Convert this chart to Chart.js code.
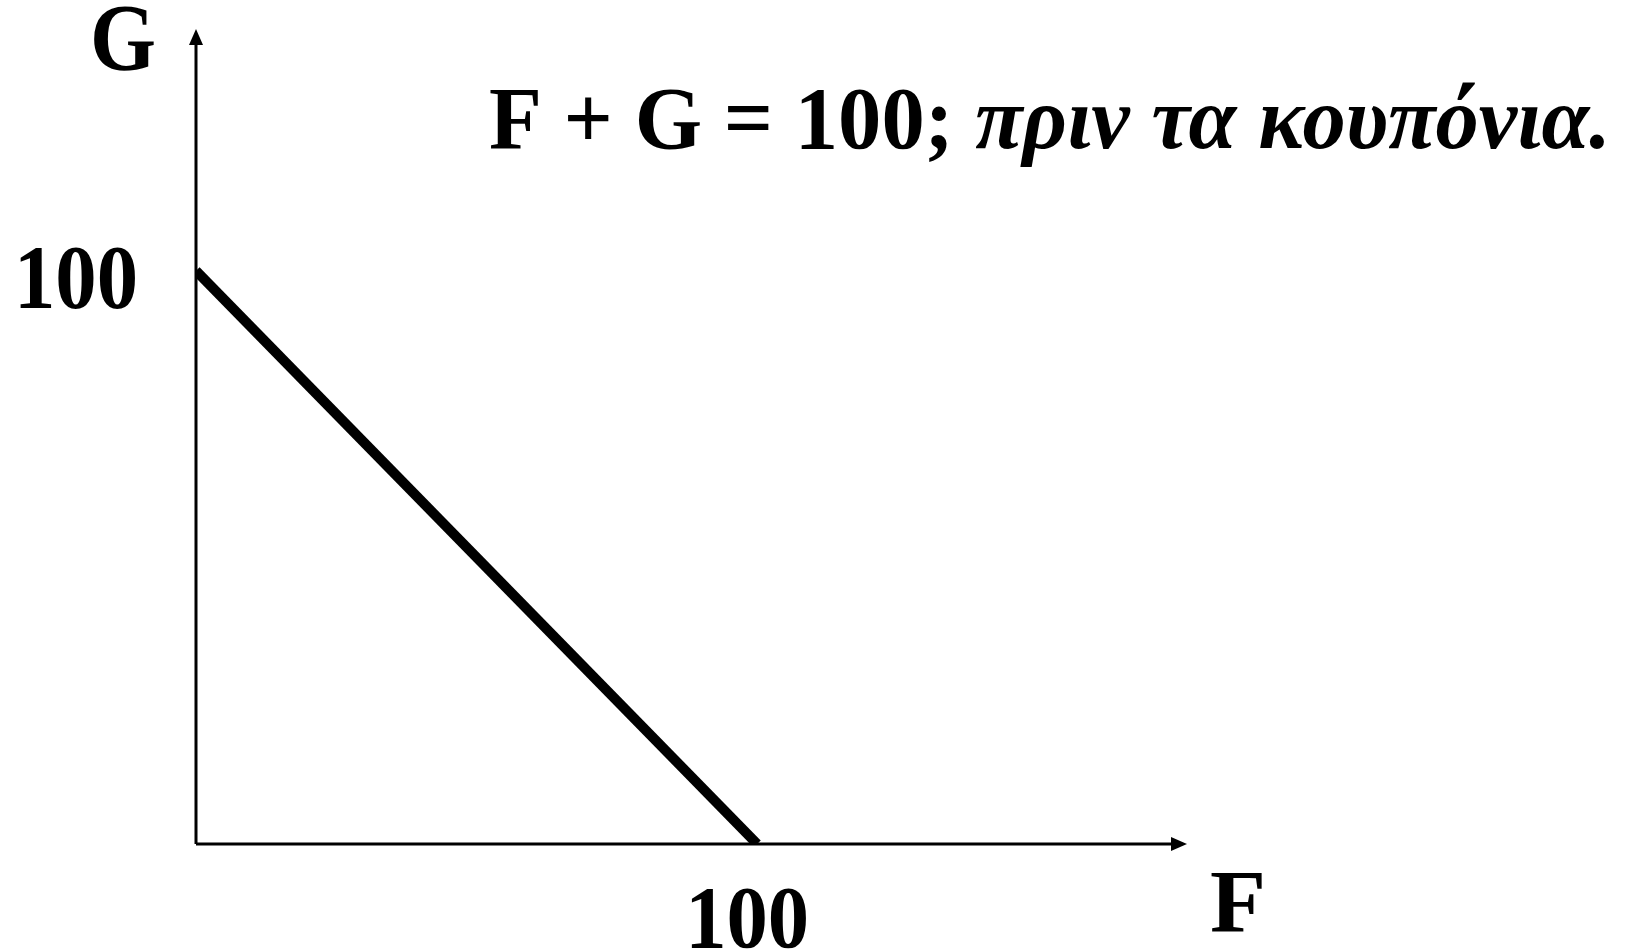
<!DOCTYPE html>
<html>
<head>
<meta charset="utf-8">
<script src="https://cdn.jsdelivr.net/npm/chart.js@4"></script>
<style>
  html, body { margin: 0; padding: 0; background: #fff; }
  #wrap { width: 1628px; height: 950px; position: relative; }
</style>
</head>
<body>
<div id="wrap"><canvas id="chart"></canvas></div>
<script>
// budget line before the coupons: F + G = 100
var fValues = [0, 100];
var gValues = [100, 0];
var xTicks = [100];
var yTicks = [100];
var xTitle = "F";
var yTitle = "G";
var titleMain = "F + G = 100; ";
var titleGreek = "πριν τα κουπόνια.";

var points = fValues.map(function (f, i) { return { x: f, y: gValues[i] } });

// draw text squeezed to a target width
function fitText(ctx, parts, x, y, width) {
    var total = 0;
    parts.forEach(function (p) { ctx.font = p.font; total += ctx.measureText(p.text).width });
    var sx = width / total;
    ctx.save();
    ctx.translate(x, y);
    ctx.scale(sx, 1);
    var cx = 0;
    parts.forEach(function (p) {
        ctx.font = p.font;
        ctx.fillText(p.text, cx, 0);
        cx += ctx.measureText(p.text).width;
    });
    ctx.restore();
}

function arrowHead(ctx, x, y, dir) {
    ctx.beginPath();
    if (dir === "up") {
        ctx.moveTo(x, y);
        ctx.lineTo(x - 7, y + 16);
        ctx.lineTo(x + 7, y + 16);
    } else {
        ctx.moveTo(x, y);
        ctx.lineTo(x - 16, y - 7);
        ctx.lineTo(x - 16, y + 7);
    }
    ctx.closePath();
    ctx.fill();
}

var axesPlugin = {
    id: "axes",
    beforeDatasetsDraw: function (chart) {
        var ctx = chart.ctx;
        var xs = chart.scales.x, ys = chart.scales.y;
        var x0 = xs.getPixelForValue(0), y0 = ys.getPixelForValue(0);
        var area = chart.chartArea;
        ctx.save();
        ctx.strokeStyle = "#000";
        ctx.fillStyle = "#000";
        ctx.lineWidth = 3;
        ctx.beginPath();
        ctx.moveTo(x0, y0);
        ctx.lineTo(x0, area.top + 10);
        ctx.moveTo(x0, y0);
        ctx.lineTo(area.right - 10, y0);
        ctx.stroke();
        arrowHead(ctx, x0, area.top, "up");
        arrowHead(ctx, area.right, y0, "right");
        ctx.restore();
    },
    afterDraw: function (chart) {
        var ctx = chart.ctx;
        var xs = chart.scales.x, ys = chart.scales.y;
        ctx.save();
        ctx.fillStyle = "#000";
        ctx.textBaseline = "alphabetic";
        var serif = "'Liberation Serif', 'Times New Roman', serif";
        var bold = "bold 88px " + serif;
        var boldItalic = "italic bold 88px " + serif;
        yTicks.forEach(function (v) {
            fitText(ctx, [{ text: String(v), font: "bold 90px " + serif }], 14, ys.getPixelForValue(v) + 37, 124);
        });
        xTicks.forEach(function (v) {
            fitText(ctx, [{ text: String(v), font: bold }], xs.getPixelForValue(v) - 72, 947, 124);
        });
        fitText(ctx, [{ text: yTitle, font: "bold 96px " + serif }], 90, 70, 66);
        fitText(ctx, [{ text: xTitle, font: bold }], 1210, 931, 56);
        fitText(ctx, [{ text: titleMain, font: bold }, { text: titleGreek, font: boldItalic }], 489, 148, 1122);
        ctx.restore();
    }
};

new Chart(document.getElementById("chart").getContext("2d"), {
    type: "scatter",
    data: {
        datasets: [
            {
                data: points,
                showLine: true,
                borderColor: "#000",
                backgroundColor: "#000",
                borderWidth: 10,
                pointRadius: 0,
                borderCapStyle: "butt"
            }
        ]
    },
    options: {
        responsive: true,
        maintainAspectRatio: false,
        animation: false,
        layout: { padding: { left: 196, right: 441, top: 29, bottom: 106 } },
        plugins: { legend: { display: false }, tooltip: { enabled: false } },
        scales: {
            x: { type: "linear", display: false, min: 0, max: 176.6 },
            y: { type: "linear", display: false, min: 0, max: 142.2 }
        }
    },
    plugins: [axesPlugin]
});
</script>
</body>
</html>
